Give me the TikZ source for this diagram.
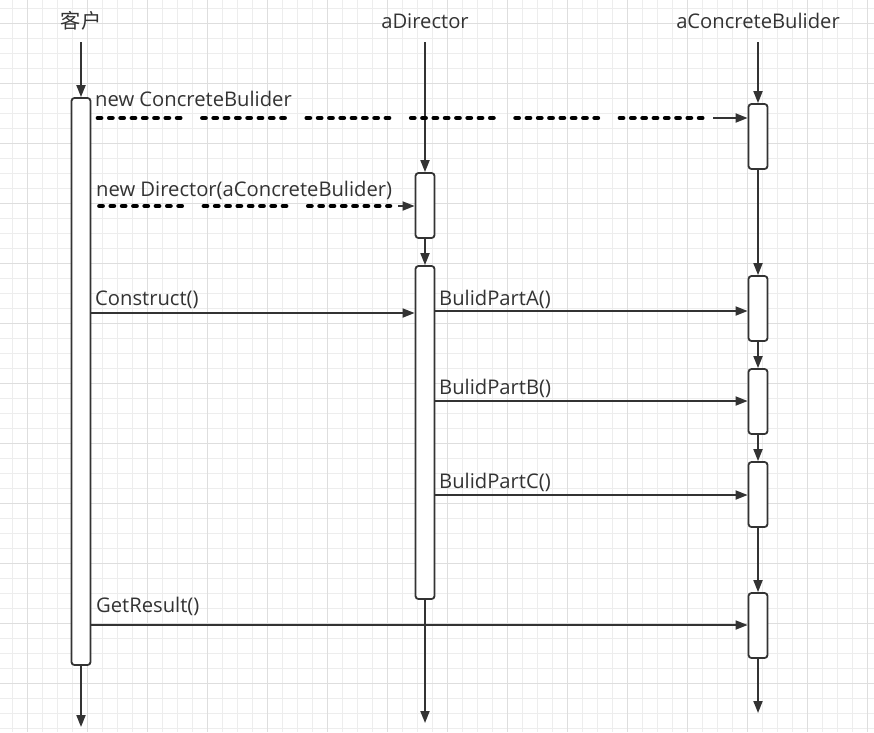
\documentclass[tikz,border=0pt]{standalone}
\usepackage{fontspec}
\setmainfont{Open Sans}
\newfontfamily\cjk{Noto Sans CJK SC}
\usetikzlibrary{arrows.meta}

\definecolor{ink}{HTML}{333333}
\definecolor{gridminor}{HTML}{EDEDED}
\definecolor{gridmajor}{HTML}{DEDEDE}

\tikzset{
    act/.style={draw=ink, fill=white, line width=1.8pt, rounded corners=3pt, minimum width=19pt, inner sep=0pt},
    life/.style={draw=ink, line width=1.8pt, -{Triangle[length=12pt,width=9pt]}},
    call/.style={draw=ink, line width=1.8pt, -{Triangle[length=12pt,width=9pt]}},
    create/.style={draw=black, line width=4.5pt, line cap=round,
        dash pattern=on 3.3pt off 8pt on 3.3pt off 8pt on 3.3pt off 8pt on 3.3pt off 8pt
                     on 3.3pt off 8pt on 3.3pt off 8pt on 3.3pt off 8pt on 3.3pt off 22pt},
    head/.style={text=ink, anchor=base, inner sep=0pt},
    msg/.style={text=ink, anchor=base west, inner sep=0pt}
}

\begin{document}
\begin{tikzpicture}[x=1pt, y=-1pt, font=\fontsize{20.2}{24}\selectfont]
        \fill[white] (0,0) rectangle (874,732);
        \useasboundingbox (0,0) rectangle (874,732);
        \foreach \x in {12,27,...,874} \draw[gridminor, line width=1pt] (\x,0) -- (\x,732);
        \foreach \y in {8,23,...,732} \draw[gridminor, line width=1pt] (0,\y) -- (874,\y);
        \foreach \x in {27,87,...,874} \draw[gridmajor, line width=1pt] (\x,0) -- (\x,732);
        \foreach \y in {23,83,...,732} \draw[gridmajor, line width=1pt] (0,\y) -- (874,\y);

        \node[head] (client) at (81,28) {\cjk 客户};
        \node[head] (director) at (425,28) {aDirector};
        \node[head] (builder) at (758,28) {aConcreteBulider};
        \coordinate (c0) at (81,42);
        \coordinate (d0) at (425,42);
        \coordinate (b0) at (758,42);
        \coordinate (cend) at (81,727);
        \coordinate (dend) at (425,723);
        \coordinate (bend) at (758,713);

        \node[act, minimum height=567pt] (k1) at (81,381.5) {};
        \node[act, minimum height=65pt] (d1) at (425,205.5) {};
        \node[act, minimum height=333pt] (d2) at (425,432.5) {};
        \node[act, minimum height=65pt] (b1) at (758,136.5) {};
        \node[act, minimum height=65pt] (b2) at (758,308.5) {};
        \node[act, minimum height=65pt] (b3) at (758,401.5) {};
        \node[act, minimum height=65pt] (b4) at (758,494.5) {};
        \node[act, minimum height=65pt] (b5) at (758,625.5) {};

        \draw[life] (c0) -- (k1.north);
        \draw[life] (k1.south) -- (cend);
        \draw[life] (d0) -- (d1.north);
        \draw[life] (d1.south) -- (d2.north);
        \draw[life] (d2.south) -- (dend);
        \draw[life] (b0) -- (b1.north);
        \draw[life] (b1.south) -- (b2.north);
        \draw[life] (b2.south) -- (b3.north);
        \draw[life] (b3.south) -- (b4.north);
        \draw[life] (b4.south) -- (b5.north);
        \draw[life] (b5.south) -- (bend);

        \node[msg] (m1label) at (95,106) {new ConcreteBulider};
        \coordinate (m1) at (709,118);
        \draw[create, shorten <=6.5pt] (k1.east |- m1) -- (m1);
        \draw[call, shorten <=4pt] (m1) -- (b1.west |- m1);

        \node[msg] (m2label) at (96,196) {new Director(aConcreteBulider)};
        \coordinate (m2) at (390,206);
        \draw[create, shorten <=8pt] (k1.east |- m2) -- (m2);
        \draw[call, shorten <=8pt] (m2) -- (d1.west |- m2);

        \node[msg] (m3label) at (95,305) {Construct()};
        \draw[call] (k1.east |- 0,313) -- (d2.west |- 0,313);

        \node[msg] (m4label) at (439,305) {BulidPartA()};
        \draw[call] (d2.east |- 0,311) -- (b2.west |- 0,311);

        \node[msg] (m5label) at (439,394) {BulidPartB()};
        \draw[call] (d2.east |- 0,401) -- (b3.west |- 0,401);

        \node[msg] (m6label) at (439,488) {BulidPartC()};
        \draw[call] (d2.east |- 0,495) -- (b4.west |- 0,495);

        \node[msg] (m7label) at (96,612) {GetResult()};
        \draw[call] (k1.east |- 0,625) -- (b5.west |- 0,625);
    \end{tikzpicture}
\end{document}
